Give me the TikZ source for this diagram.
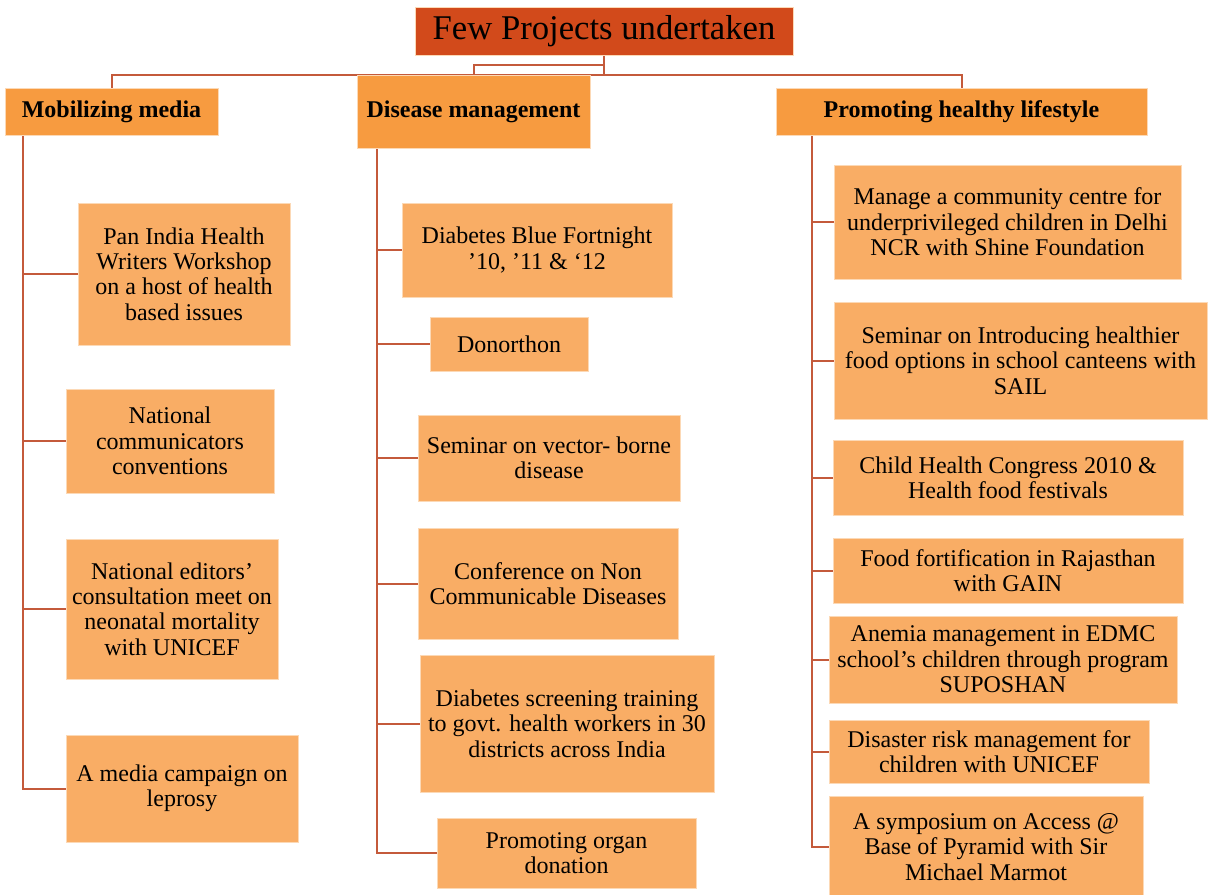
\documentclass[tikz,border=0pt]{standalone}
\usepackage{fontspec}
\setmainfont{Liberation Serif}
\pgfdeclarelayer{bg}
\pgfsetlayers{bg,main}
\definecolor{titlefill}{HTML}{D24A1B}
\definecolor{headfill}{HTML}{F79B40}
\definecolor{itemfill}{HTML}{F9AD65}
\definecolor{linec}{HTML}{C45A3B}
\definecolor{edgec}{HTML}{FCD9B6}
\tikzset{
  base/.style={inner sep=0pt, align=center, text=black, draw=edgec, line width=0.6pt, anchor=center},
  titlebox/.style={base, fill=titlefill, font=\fontsize{26}{28}\selectfont},
  headbox/.style={base, fill=headfill, font=\bfseries\fontsize{18}{19}\selectfont},
  itembox/.style={base, fill=itemfill, font=\fontsize{18}{19}\selectfont},
  conn/.style={draw=linec, line width=1.5pt},
}
% #1 style, #2 x1, #3 y1, #4 x2, #5 y2 (pixels), #6 name, #7 text
\newcommand\mybox[7]{\node[#1, minimum width={(#4-#2)*0.75pt}, minimum height={(#5-#3)*0.75pt}] (#6) at ({(#2+#4)/2},{(#3+#5)/2}) {#7};}
\begin{document}
\begin{tikzpicture}[x=0.75pt,y=-0.75pt]
\useasboundingbox (0,0) rectangle (1211,895);
% title and headers
\mybox{titlebox}{415}{7}{793}{55}{title}{Few Projects undertaken}
\mybox{headbox}{5}{88}{218}{135}{mm}{Mobilizing media}
\mybox{headbox}{357}{75}{590}{148}{dm}{Disease management}
\mybox{headbox}{776}{88}{1147}{135}{ph}{Promoting healthy lifestyle}
% left column
\mybox{itembox}{78}{203}{290}{345}{m1}{Pan India Health\\Writers Workshop\\on a host of health\\based issues}
\mybox{itembox}{66}{389}{274}{493}{m2}{National\\communicators\\conventions}
\mybox{itembox}{66}{539}{278}{679}{m3}{National editors’\\consultation meet on\\neonatal mortality\\with UNICEF}
\mybox{itembox}{66}{735}{298}{842}{m4}{A media campaign on\\leprosy}
% middle column
\mybox{itembox}{402}{203}{672}{297}{d1}{Diabetes Blue Fortnight\\’10, ’11 \& ‘12}
\mybox{itembox}{430}{317}{588}{371}{d2}{Donorthon}
\mybox{itembox}{418}{415}{680}{501}{d3}{Seminar on vector- borne\\disease}
\mybox{itembox}{418}{528}{678}{639}{d4}{Conference on Non\\Communicable Diseases}
\mybox{itembox}{420}{655}{714}{792}{d5}{Diabetes screening training\\to govt. health workers in 30\\districts across India}
\mybox{itembox}{437}{818}{696}{888}{d6}{Promoting organ\\donation}
% right column
\mybox{itembox}{834}{165}{1181}{279}{p1}{Manage a community centre for\\underprivileged children in Delhi\\NCR with Shine Foundation}
\mybox{itembox}{834}{302}{1207}{419}{p2}{Seminar on Introducing healthier\\food options in school canteens with\\SAIL}
\mybox{itembox}{833}{440}{1183}{515}{p3}{Child Health Congress 2010 \&\\Health food festivals}
\mybox{itembox}{833}{538}{1183}{603}{p4}{Food fortification in Rajasthan\\with GAIN}
\mybox{itembox}{829}{616}{1177}{703}{p5}{Anemia management in EDMC\\school’s children through program\\SUPOSHAN}
\mybox{itembox}{829}{720}{1149}{783}{p6}{Disaster risk management for\\children with UNICEF}
\mybox{itembox}{829}{796}{1143}{898}{p7}{A symposium on Access @\\Base of Pyramid with Sir\\Michael Marmot}
% spine tops
\coordinate (ls) at (23,135);
\coordinate (ms) at (377,148);
\coordinate (rs) at (812,135);
\begin{pgfonlayer}{bg}
\draw[conn] (title.south) -- ++(0,20) -| (mm.north);
\draw[conn] (title.south) -- ++(0,20) -| (ph.north);
\draw[conn] (title.south) -- ++(0,10) -| (dm.north);
\foreach \c in {m1,m2,m3,m4} \draw[conn] (ls) |- (\c.west);
\foreach \c in {d1,d2,d3,d4,d5,d6} \draw[conn] (ms) |- (\c.west);
\foreach \c in {p1,p2,p3,p4,p5,p6,p7} \draw[conn] (rs) |- (\c.west);
\end{pgfonlayer}
\end{tikzpicture}
\end{document}
